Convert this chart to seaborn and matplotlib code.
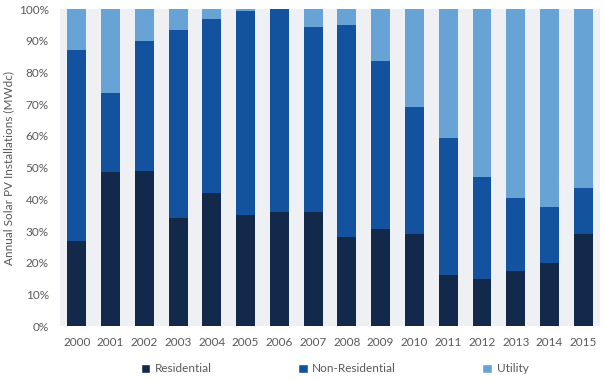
import pandas as pd
import matplotlib.pyplot as plt
import seaborn as sns
from matplotlib.patches import Patch
from matplotlib.ticker import PercentFormatter

# shares of annual installations (%)
years = ['2000', '2001', '2002', '2003', '2004', '2005', '2006', '2007',
         '2008', '2009', '2010', '2011', '2012', '2013', '2014', '2015']
residential = [27, 48.5, 49, 34, 42, 35, 36, 36, 28, 30.5, 29, 16, 15, 17.5, 20, 29]
non_residential = [60, 25, 41, 59.5, 55, 64.5, 64, 58.5, 67, 53, 40, 43.5, 32, 23, 17.5, 14.5]
utility = [13, 26.5, 10, 6.5, 3, 0.5, 0, 5.5, 5, 16.5, 31, 40.5, 53, 59.5, 62.5, 56.5]

colors = ['#13294b', '#12529e', '#68a3d5']
labels = ['Residential', 'Non-Residential', 'Utility']

df = pd.DataFrame({'year': years, 'res': residential,
                   'nonres': non_residential, 'util': utility})
df['top_nonres'] = df['res'] + df['nonres']
df['top_util'] = df['top_nonres'] + df['util']

sns.set_style('white')
plt.rcParams['font.family'] = ['Lato', 'DejaVu Sans']

fig = plt.figure(figsize=(6.05, 3.81), dpi=100)
ax = fig.add_axes([0.099, 0.144, 0.893, 0.832])
ax.set_facecolor('#eef0f3')

# draw the stack from the top down so each layer covers the one above
for col, c in zip(['top_util', 'top_nonres', 'res'], colors[::-1]):
    sns.barplot(data=df, x='year', y=col, color=c, width=0.56,
                saturation=1, linewidth=0, ax=ax)

ax.set_xlim(-0.5, 15.5)
ax.set_ylim(0, 100)
ax.set_yticks(range(0, 101, 10))
ax.yaxis.set_major_formatter(PercentFormatter(decimals=0))
ax.tick_params(length=0, labelsize=8.5, colors='#595959', pad=8)
ax.set_xlabel('')
ax.set_ylabel('Annual Solar PV Installations (MWdc)', fontsize=8.5,
              color='#595959', labelpad=3)
for s in ax.spines.values():
    s.set_visible(False)

handles = [Patch(facecolor=c, label=l) for c, l in zip(colors, labels)]
fig.legend(handles=handles, loc='center', bbox_to_anchor=(0.553, 0.032),
           ncol=3, frameon=False, fontsize=8.5, labelcolor='#595959',
           handlelength=0.8, handleheight=0.8, handletextpad=0.4,
           columnspacing=7.3)

plt.savefig('out.png', dpi=100)
plt.close()
